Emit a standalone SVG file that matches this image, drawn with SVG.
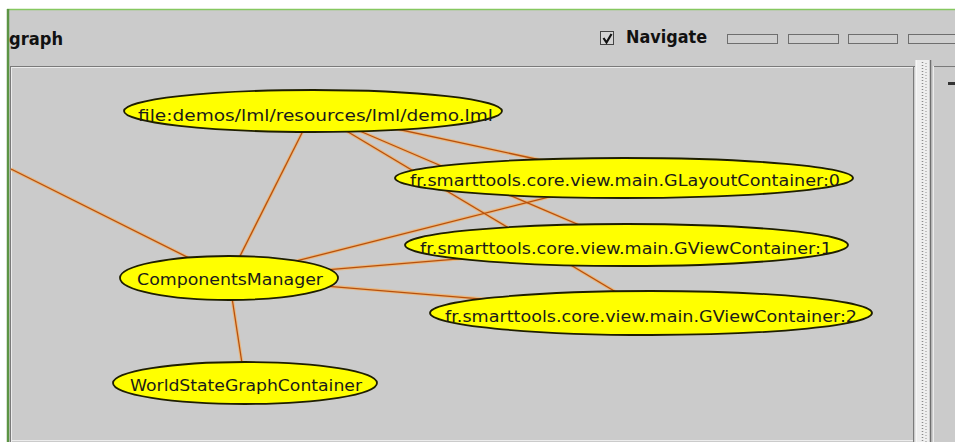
<svg xmlns="http://www.w3.org/2000/svg" width="955" height="442" viewBox="0 0 955 442">
<style>
.bg{fill:#cbcbcb}
.node ellipse{fill:#ffff00;stroke:#1e1e00;stroke-width:1.8}
.node text{font-family:"DejaVu Sans","Liberation Sans",sans-serif;font-size:16.5px;fill:#1a1a1a}
.hdr{font-family:"DejaVu Sans","Liberation Sans",sans-serif;font-size:17px;font-weight:bold;fill:#111}
.halo{stroke:#f2b26a;stroke-width:3.4;fill:none;stroke-opacity:0.75}
.core{stroke:#b8500c;stroke-width:1.3;fill:none}
.btn{fill:#cfcfcf;stroke:#6e6e6e;stroke-width:1}
</style>
<defs>
<g id="edgeset">
<line x1="11" y1="169" x2="229" y2="278"/>
<line x1="313" y1="111" x2="229" y2="278"/>
<line x1="313" y1="111" x2="624" y2="178"/>
<line x1="313" y1="111" x2="626" y2="245"/>
<line x1="313" y1="111" x2="651" y2="313"/>
<line x1="229" y1="278" x2="624" y2="178"/>
<line x1="229" y1="278" x2="626" y2="245"/>
<line x1="229" y1="278" x2="651" y2="313"/>
<line x1="229" y1="278" x2="245" y2="383"/>
</g>
</defs>
<!-- window frame -->
<rect x="0" y="0" width="955" height="442" fill="#ffffff"/>
<rect class="bg" x="7" y="9" width="948" height="433"/>
<line x1="7" y1="9.5" x2="955" y2="9.5" stroke="#86c860" stroke-width="1.5"/>
<line x1="8" y1="9" x2="8" y2="442" stroke="#5c9444" stroke-width="2.5"/>
<!-- header -->
<text class="hdr" x="9" y="45" textLength="54" lengthAdjust="spacingAndGlyphs">graph</text>
<rect x="600.5" y="31.5" width="13" height="13" fill="#d4d4d4" stroke="#444" stroke-width="1"/>
<path d="M603.5 38 L606.5 42.5 L611.5 34" fill="none" stroke="#111" stroke-width="2.2"/>
<text class="hdr" x="626" y="43" textLength="81" lengthAdjust="spacingAndGlyphs">Navigate</text>
<rect class="btn" x="727.5" y="34.5" width="50" height="9"/>
<rect class="btn" x="788.5" y="34.5" width="50" height="9"/>
<rect class="btn" x="848.5" y="34.5" width="49" height="9"/>
<rect class="btn" x="908.5" y="34.5" width="50" height="9"/>
<!-- graph panel border -->
<line x1="10" y1="66.5" x2="915" y2="66.5" stroke="#7a7a7a" stroke-width="1"/>
<line x1="11" y1="67.5" x2="913" y2="67.5" stroke="#ececec" stroke-width="1"/>
<line x1="10.5" y1="66" x2="10.5" y2="442" stroke="#7a7a7a" stroke-width="1"/>
<line x1="11.5" y1="67" x2="11.5" y2="442" stroke="#ececec" stroke-width="1"/>
<line x1="913.5" y1="66" x2="913.5" y2="442" stroke="#7a7a7a" stroke-width="1"/>
<line x1="11" y1="440.5" x2="913" y2="440.5" stroke="#ececec" stroke-width="1"/>
<!-- splitter -->
<rect x="916" y="60" width="14" height="382" fill="#eeeeee"/>
<line x1="916" y1="60" x2="916" y2="442" stroke="#ffffff" stroke-width="1"/>
<line x1="922.5" y1="62" x2="922.5" y2="442" stroke="#8a8a8a" stroke-width="1.5" stroke-dasharray="1 2"/>
<line x1="926" y1="63" x2="926" y2="442" stroke="#a0a0a0" stroke-width="1.2" stroke-dasharray="1 2"/>
<line x1="930.5" y1="60" x2="930.5" y2="442" stroke="#6e6e6e" stroke-width="1.5"/>
<line x1="933" y1="66.5" x2="955" y2="66.5" stroke="#7a7a7a" stroke-width="1"/>
<line x1="933.5" y1="66" x2="933.5" y2="442" stroke="#ececec" stroke-width="1"/>
<rect x="948" y="82" width="7" height="3" fill="#333"/>
<!-- connectors -->
<g id="connectors">
<use href="#edgeset" class="halo"/>
<use href="#edgeset" class="core"/>
</g>
<!-- nodes -->
<g id="node-file" class="node">
<ellipse cx="313" cy="111" rx="189" ry="21"/>
<text x="138" y="121" textLength="355" lengthAdjust="spacingAndGlyphs">file:demos/lml/resources/lml/demo.lml</text>
</g>
<g id="node-glayout" class="node">
<ellipse cx="624" cy="178" rx="229" ry="20"/>
<text x="410" y="186" textLength="430" lengthAdjust="spacingAndGlyphs">fr.smarttools.core.view.main.GLayoutContainer:0</text>
</g>
<g id="node-gview1" class="node">
<ellipse cx="626.5" cy="245" rx="221.5" ry="21"/>
<text x="420" y="254" textLength="412" lengthAdjust="spacingAndGlyphs">fr.smarttools.core.view.main.GViewContainer:1</text>
</g>
<g id="node-gview2" class="node">
<ellipse cx="651" cy="313" rx="221" ry="22"/>
<text x="445" y="322" textLength="412" lengthAdjust="spacingAndGlyphs">fr.smarttools.core.view.main.GViewContainer:2</text>
</g>
<g id="node-cm" class="node">
<ellipse cx="229" cy="278" rx="109" ry="22"/>
<text x="137" y="285" textLength="186" lengthAdjust="spacingAndGlyphs">ComponentsManager</text>
</g>
<g id="node-ws" class="node">
<ellipse cx="245" cy="383" rx="132" ry="21"/>
<text x="130" y="391" textLength="232" lengthAdjust="spacingAndGlyphs">WorldStateGraphContainer</text>
</g>
</svg>
